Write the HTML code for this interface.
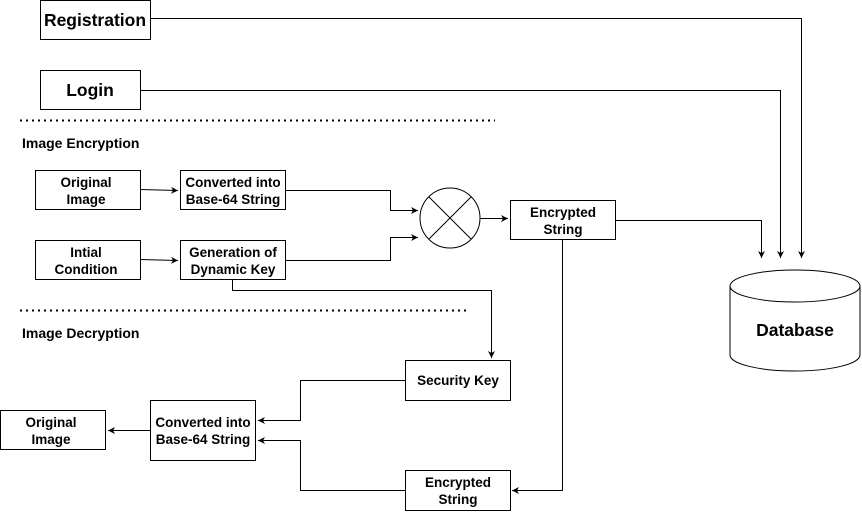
<!DOCTYPE html>
<html><head><style>
html,body{margin:0;padding:0;background:#fff;}
svg text{font-family:"Liberation Sans",Arial,sans-serif;font-weight:bold;fill:#000;}
</style></head><body>
<svg width="862" height="511" viewBox="0 0 862 511" xmlns="http://www.w3.org/2000/svg">
<defs><marker id="a" markerWidth="8" markerHeight="8" refX="7" refY="4" orient="auto" markerUnits="userSpaceOnUse"><path d="M0,0.5 L7,4 L0,7.5 L2,4 Z" fill="#000"/></marker></defs>
<g fill="none" stroke="#000" stroke-width="1">
<rect x="40.5" y="0.5" width="110" height="39"/>
<rect x="40.5" y="70.5" width="100" height="39"/>
<rect x="35.5" y="170.5" width="105" height="39"/>
<rect x="180.5" y="170.5" width="105" height="39"/>
<rect x="35.5" y="240.5" width="105" height="39"/>
<rect x="180.5" y="240.5" width="105" height="39"/>
<rect x="510.5" y="200.5" width="105" height="39"/>
<rect x="405.5" y="360.5" width="105" height="40"/>
<rect x="150.5" y="400.5" width="105" height="60"/>
<rect x="0.5" y="410.5" width="105" height="39"/>
<rect x="405.5" y="470.5" width="105" height="40"/>
<circle cx="450" cy="218" r="30"/>
<line x1="429" y1="197" x2="471" y2="239"/><line x1="471" y1="197" x2="429" y2="239"/>
<path d="M730,286 L730,355 A65,16 0 0 0 860,355 L860,286"/>
<ellipse cx="795" cy="286" rx="65" ry="16"/>
<line x1="20" y1="120.5" x2="495" y2="120.5" stroke-dasharray="2,4" stroke-width="2"/>
<line x1="20" y1="310.5" x2="470" y2="310.5" stroke-dasharray="2,4" stroke-width="2"/>
<path d="M150,18.5 H801.5 V258" marker-end="url(#a)"/>
<path d="M140,90.5 H780.5 V258" marker-end="url(#a)"/>
<path d="M615,220.5 H761.5 V258" marker-end="url(#a)"/>
<path d="M140,189.5 L178,190.5" marker-end="url(#a)"/>
<path d="M140,259.5 L178,260.5" marker-end="url(#a)"/>
<path d="M285,190.5 H390.5 V210.5 H418" marker-end="url(#a)"/>
<path d="M285,260.5 H390.5 V237.5 H418" marker-end="url(#a)"/>
<path d="M480,218.5 H508" marker-end="url(#a)"/>
<path d="M232.5,280 V290.5 H491.5 V358" marker-end="url(#a)"/>
<path d="M405,380.5 H300.5 V420.5 H258" marker-end="url(#a)"/>
<path d="M405,490.5 H300.5 V440.5 H258" marker-end="url(#a)"/>
<path d="M562.5,240 V490.5 H512" marker-end="url(#a)"/>
<path d="M150,430.5 H108" marker-end="url(#a)"/>
</g>
<text x="95" y="26" font-size="17.5" text-anchor="middle">Registration</text>
<text x="90" y="96" font-size="17.5" text-anchor="middle">Login</text>
<text x="22" y="148" font-size="14">Image Encryption</text>
<text x="22" y="338" font-size="14">Image Decryption</text>
<g font-size="13.5" text-anchor="middle">
<text x="86" y="187">Original</text><text x="86" y="204">Image</text>
<text x="233" y="187">Converted into</text><text x="233" y="204">Base-64 String</text>
<text x="86" y="257">Intial</text><text x="86" y="274">Condition</text>
<text x="233" y="257">Generation of</text><text x="233" y="274">Dynamic Key</text>
<text x="563" y="217">Encrypted</text><text x="563" y="234">String</text>
<text x="458" y="385">Security Key</text>
<text x="203" y="427">Converted into</text><text x="203" y="444">Base-64 String</text>
<text x="51" y="427">Original</text><text x="51" y="444">Image</text>
<text x="458" y="487">Encrypted</text><text x="458" y="504">String</text>
</g>
<text x="795" y="336" font-size="17.5" text-anchor="middle">Database</text>
</svg>
</body></html>
